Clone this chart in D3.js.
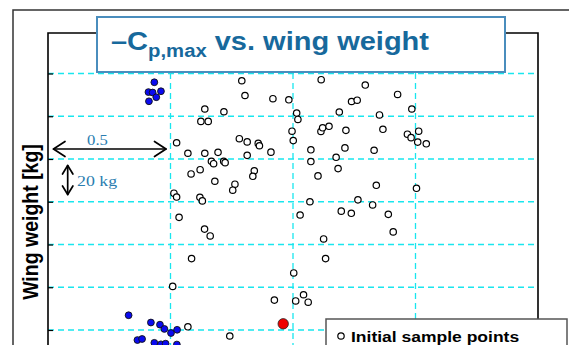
<!DOCTYPE html>
<html>
<head>
<meta charset="utf-8">
<script src="https://cdn.jsdelivr.net/npm/d3@7"></script>
<style>
  html, body { margin: 0; padding: 0; background: #fff; }
  svg { display: block; }
</style>
</head>
<body>
<svg id="chart" width="569" height="345"></svg>
<script>
// -Cp,max of the initial sample designs and their wing weight [kg]
const sampleCp = [
  0.791, 0.804, 0.640, 0.718, 0.918, 0.983, 1.015, 1.020, 0.624, 0.654,
  0.525, 0.571, 0.640, 0.694, 0.781, 0.813, 0.858, 0.863, 0.910, 0.813,
  0.996, 1.001, 0.667, 0.676, 0.717, 0.723, 0.584, 0.621, 0.842, 0.836,
  0.681, 0.763, 0.754, 0.514, 0.525, 0.620, 0.630, 0.535, 0.639, 0.662,
  1.115, 1.295, 1.239, 1.262, 1.189, 1.353, 1.427, 1.485, 1.114, 1.121,
  1.147, 1.216, 1.367, 1.467, 1.482, 1.513, 1.509, 1.544, 1.073, 1.212,
  1.331, 1.176, 1.073, 1.184, 1.102, 1.340, 1.504, 1.069, 1.265, 1.325,
  1.029, 1.197, 1.238, 1.389, 1.409, 1.125, 0.586, 1.133, 1.003, 0.509,
  0.924, 1.043, 1.011, 1.062, 0.571, 0.742
];
const sampleWeight = [
  216.6, 209.7, 203.4, 202.1, 208.2, 207.7, 201.5, 198.5, 197.6, 197.6,
  187.6, 182.7, 182.7, 183.1, 189.5, 188.0, 187.3, 186.2, 183.2, 181.7,
  193.0, 188.6, 178.9, 177.8, 178.9, 178.3, 173.0, 175.0, 174.5, 171.9,
  169.6, 168.2, 165.4, 164.0, 162.2, 162.1, 160.4, 152.7, 147.2, 144.0,
  217.1, 214.6, 206.9, 207.5, 202.0, 200.6, 210.2, 203.4, 192.9, 194.6,
  195.3, 193.4, 193.9, 191.6, 190.0, 193.0, 187.9, 187.1, 184.3, 185.2,
  184.1, 180.8, 178.8, 175.5, 172.1, 167.7, 166.3, 160.0, 160.9, 158.5,
  153.8, 155.6, 154.6, 154.1, 145.9, 142.6, 133.4, 133.4, 126.7, 120.4,
  114.0, 116.5, 113.6, 113.0, 101.5, 97.2
];

// Designs found by the optimizer (filled blue)
const optCp = [
  0.434, 0.410, 0.427, 0.461, 0.442, 0.412,
  0.329, 0.420, 0.457, 0.475, 0.502, 0.527, 0.365, 0.384, 0.434, 0.461, 0.480, 0.526
];
const optWeight = [
  215.9, 211.3, 211.1, 211.7, 208.9, 207.0,
  106.9, 103.5, 102.5, 100.5, 98.6, 100.1, 95.3, 95.8, 94.0, 93.3, 93.6, 93.2
];

// Highlighted design (red)
const bestCp = [0.960];
const bestWeight = [102.9];

// Grid positions
const cpTicks = [0, 0.5, 1.0, 1.5, 2.0];
const weightTicks = [100, 120, 140, 160, 180, 200, 220];

const titleMain = "\u2013C";
const titleSub = "p,max";
const titleRest = " vs. wing weight";
const yLabel = "Wing weight [kg]";
const legendLabel = "Initial sample points";

const svg = d3.select("#chart");

const plot = { left: 48, right: 538, top: 33, bottom: 400 };

const x = d3.scaleLinear().domain([0, 2]).range([plot.left, plot.right]);
const y = d3.scaleLinear().domain([100, 220]).range([330, 73.5]);

const GRID = "#19e6ee";
const TITLE_BLUE = "#17699c";
const NOTE_BLUE = "#2a7db0";

// Outer slide frame
svg.append("rect")
  .attr("x", 13).attr("y", 10).attr("width", 560).attr("height", 360)
  .attr("fill", "none").attr("stroke", "#333").attr("stroke-width", 1.5);

svg.append("clipPath").attr("id", "plotClip")
  .append("rect")
  .attr("x", plot.left).attr("y", plot.top)
  .attr("width", plot.right - plot.left).attr("height", plot.bottom - plot.top);

// Grid lines
const grid = svg.append("g").attr("clip-path", "url(#plotClip)");
grid.selectAll("line.hgrid").data(weightTicks).join("line")
  .attr("class", "hgrid")
  .attr("x1", plot.left).attr("x2", plot.right)
  .attr("y1", d => y(d)).attr("y2", d => y(d))
  .attr("stroke", GRID).attr("stroke-width", 1.3).attr("stroke-dasharray", "6,4");
grid.selectAll("line.vgrid").data(cpTicks.slice(1, -1)).join("line")
  .attr("class", "vgrid")
  .attr("x1", d => x(d)).attr("x2", d => x(d))
  .attr("y1", plot.top).attr("y2", plot.bottom)
  .attr("stroke", GRID).attr("stroke-width", 1.3).attr("stroke-dasharray", "6,4");

// Axis frame with inward ticks on the weight axis
const yAxis = d3.axisRight(y).tickValues(weightTicks).tickSize(5).tickFormat("");
const yAxisG = svg.append("g").attr("transform", `translate(${plot.left},0)`).call(yAxis);
yAxisG.select(".domain").remove();
yAxisG.selectAll(".tick line").attr("stroke", "#000").attr("stroke-width", 1.2);

svg.append("path")
  .attr("d", `M${plot.left},${plot.bottom} V${plot.top} H${plot.right} V${plot.bottom}`)
  .attr("fill", "none").attr("stroke", "#000").attr("stroke-width", 1.6);

// Markers
const marks = svg.append("g").attr("clip-path", "url(#plotClip)");
marks.selectAll("circle.sample").data(sampleCp).join("circle")
  .attr("class", "sample")
  .attr("cx", d => x(d)).attr("cy", (d, i) => y(sampleWeight[i])).attr("r", 3.2)
  .attr("fill", "#fff").attr("stroke", "#000").attr("stroke-width", 1.2);
marks.selectAll("circle.opt").data(optCp).join("circle")
  .attr("class", "opt")
  .attr("cx", d => x(d)).attr("cy", (d, i) => y(optWeight[i])).attr("r", 3.4)
  .attr("fill", "#0a0af0").attr("stroke", "#111").attr("stroke-width", 0.9);
marks.selectAll("circle.best").data(bestCp).join("circle")
  .attr("class", "best")
  .attr("cx", d => x(d)).attr("cy", (d, i) => y(bestWeight[i])).attr("r", 5.2)
  .attr("fill", "#f00000").attr("stroke", "#222").attr("stroke-width", 0.8);

// Title box
svg.append("rect")
  .attr("x", 97).attr("y", 17).attr("width", 408).attr("height", 55)
  .attr("fill", "#fff").attr("stroke", "#4a8dbd").attr("stroke-width", 2);
const title = svg.append("g").attr("transform", "translate(111,50) scale(1.16,1)")
  .append("text")
  .attr("font-family", "Arial, 'Liberation Sans', sans-serif")
  .attr("font-weight", "bold").attr("fill", TITLE_BLUE).attr("font-size", 25);
title.append("tspan").text(titleMain);
title.append("tspan").attr("font-size", 17.5).attr("dy", 6.5).text(titleSub);
title.append("tspan").attr("dy", -6.5).text(titleRest);

// Scale annotations
const notes = svg.append("g").attr("stroke", "#000").attr("fill", "none")
  .attr("stroke-width", 1.7).attr("stroke-linecap", "round").attr("stroke-linejoin", "round");
notes.append("path").attr("d", "M53.5,149 H166");
notes.append("path").attr("d", "M65,141.5 L53.5,149 L65,156.5");
notes.append("path").attr("d", "M154.5,141.5 L166,149 L154.5,156.5");
notes.append("path").attr("d", "M67.7,165.5 V194.5");
notes.append("path").attr("d", "M62.5,174 L67.7,165.5 L72.9,174");
notes.append("path").attr("d", "M62.5,186 L67.7,194.5 L72.9,186");

svg.append("g").attr("transform", "translate(97.5,145) scale(1.15,1)")
  .append("text").attr("text-anchor", "middle")
  .attr("font-family", "'Liberation Serif', 'DejaVu Serif', serif")
  .attr("font-size", 14.5).attr("fill", NOTE_BLUE).text("0.5");
svg.append("g").attr("transform", "translate(77,186) scale(1.15,1)")
  .append("text")
  .attr("font-family", "'Liberation Serif', 'DejaVu Serif', serif")
  .attr("font-size", 15.5).attr("fill", NOTE_BLUE).text("20 kg");

// Y axis title
svg.append("g").attr("transform", "translate(30,222) scale(1.15,1) rotate(-90)")
  .append("text").attr("text-anchor", "middle").attr("dy", "0.36em")
  .attr("font-family", "Arial, 'Liberation Sans', sans-serif")
  .attr("font-weight", "bold").attr("font-size", 19.5).attr("fill", "#000")
  .text(yLabel);

// Legend
svg.append("rect")
  .attr("x", 326).attr("y", 319).attr("width", 241).attr("height", 40)
  .attr("fill", "#fff").attr("stroke", "#555").attr("stroke-width", 1.5);
svg.append("circle").attr("cx", 341).attr("cy", 336).attr("r", 3.2)
  .attr("fill", "#fff").attr("stroke", "#000").attr("stroke-width", 1.2);
svg.append("g").attr("transform", "translate(351,342) scale(1.13,1)")
  .append("text")
  .attr("font-family", "Arial, 'Liberation Sans', sans-serif")
  .attr("font-weight", "bold").attr("font-size", 15.5).attr("fill", "#000")
  .text(legendLabel);
</script>
</body>
</html>
